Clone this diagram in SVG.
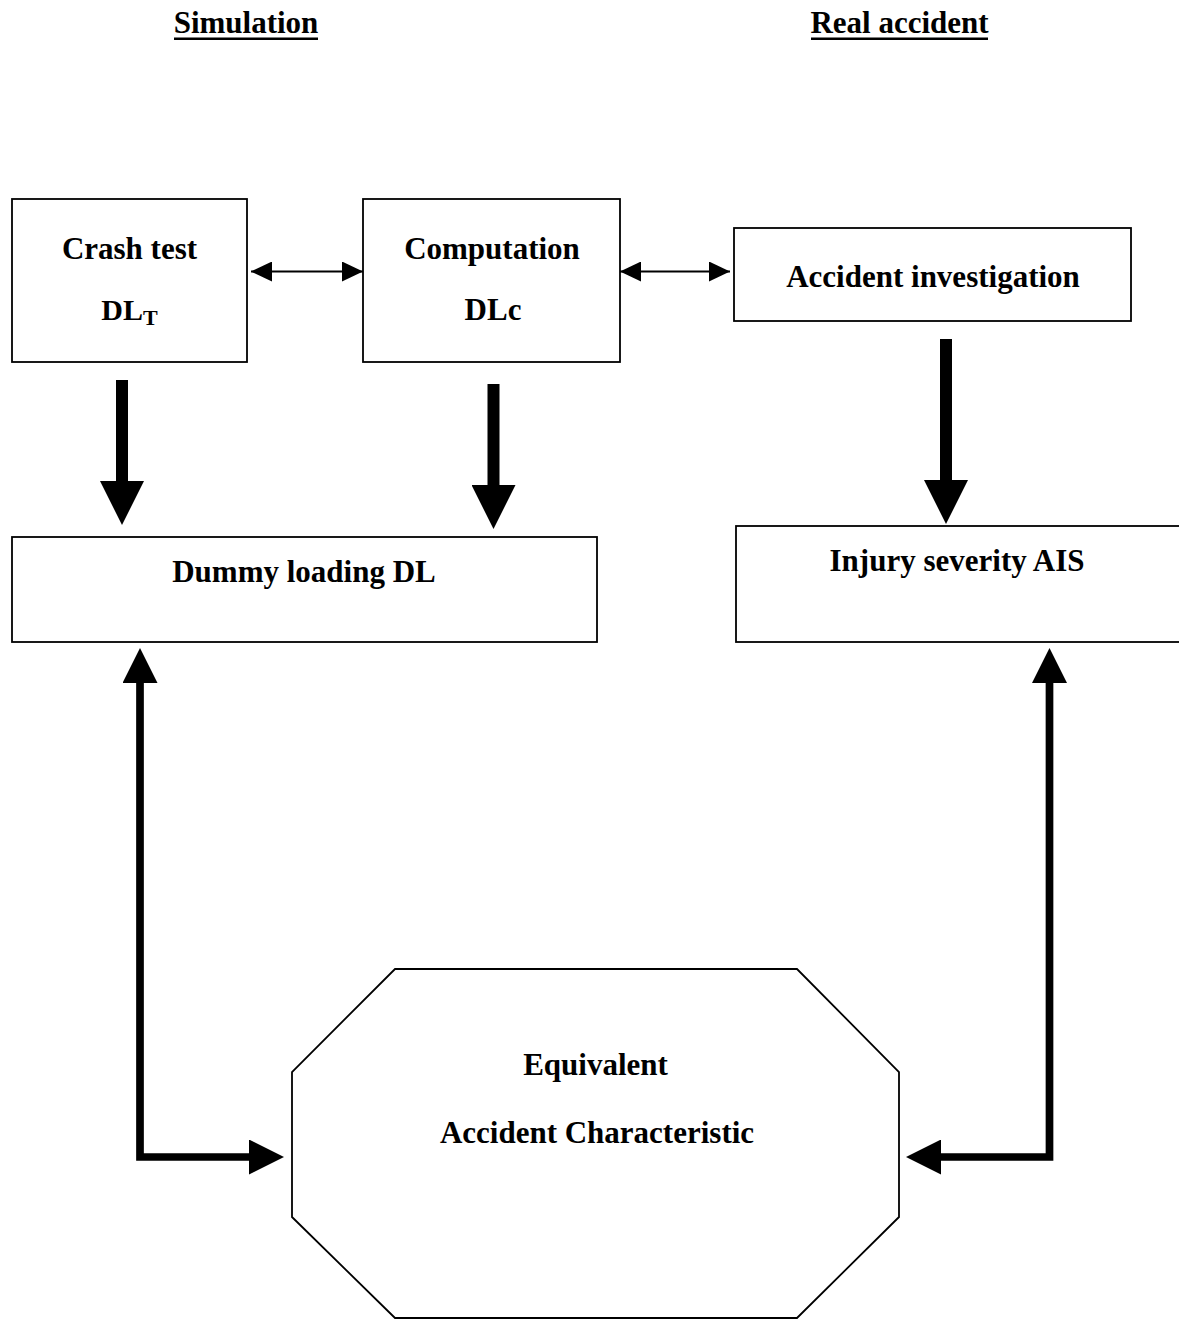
<svg xmlns="http://www.w3.org/2000/svg" width="1179" height="1319" viewBox="0 0 1179 1319">
<style>
.box{fill:#fff;stroke:#000;stroke-width:1.8}
.t{font-family:"Liberation Serif","Times New Roman",serif;font-weight:bold;font-size:31px;fill:#000;text-anchor:middle}
.thin{stroke:#000;stroke-width:2;fill:none}
.thick{stroke:#000;stroke-width:12;fill:none}
.mid{stroke:#000;stroke-width:7.7;fill:none;stroke-linejoin:miter}
</style>
<defs>
<marker id="sm" markerUnits="userSpaceOnUse" markerWidth="21" markerHeight="20" refX="21" refY="10" orient="auto-start-reverse">
<path d="M0,0 L21,10 L0,20 z" fill="#000"/>
</marker>
<marker id="big" markerUnits="userSpaceOnUse" markerWidth="44" markerHeight="44" refX="0" refY="22" orient="auto-start-reverse">
<path d="M0,0 L44,22 L0,44 z" fill="#000"/>
</marker>
<marker id="med" markerUnits="userSpaceOnUse" markerWidth="35" markerHeight="35" refX="0" refY="17.5" orient="auto-start-reverse">
<path d="M0,0 L35,17.5 L0,35 z" fill="#000"/>
</marker>
</defs>
<rect width="1179" height="1319" fill="#fff"/>
<g id="titles">
<text class="t" x="246" y="33">Simulation</text>
<rect x="174" y="37.5" width="144" height="2.5" fill="#000"/>
<text class="t" x="899.5" y="33">Real accident</text>
<rect x="811" y="37.5" width="177" height="2.5" fill="#000"/>
</g>
<g id="crash-test">
<rect class="box" x="12" y="199" width="235" height="163"/>
<text class="t" x="129.5" y="259">Crash test</text>
<text class="t" x="129.5" y="320"><tspan font-size="30">DL</tspan><tspan font-size="22" dy="5">T</tspan></text>
</g>
<g id="computation">
<rect class="box" x="363" y="199" width="257" height="163"/>
<text class="t" x="492" y="259">Computation</text>
<text class="t" x="493" y="320">DLc</text>
</g>
<g id="accident-investigation">
<rect class="box" x="734" y="228" width="397" height="93"/>
<text class="t" x="933" y="287">Accident investigation</text>
</g>
<g id="dummy-loading">
<rect class="box" x="12" y="537" width="585" height="105"/>
<text class="t" x="304" y="582">Dummy loading DL</text>
</g>
<g id="injury-severity">
<rect class="box" x="736" y="526" width="446" height="116"/>
<text class="t" x="957" y="571">Injury severity AIS</text>
</g>
<g id="equivalent-accident">
<polygon class="box" points="395,969 797,969 899,1072 899,1217 797,1318 395,1318 292,1217 292,1072"/>
<text class="t" x="595.5" y="1075">Equivalent</text>
<text class="t" x="597" y="1143">Accident Characteristic</text>
</g>
<g id="connectors">
<line class="thin" x1="251" y1="271.5" x2="363" y2="271.5" marker-start="url(#sm)" marker-end="url(#sm)"/>
<line class="thin" x1="620" y1="271.5" x2="730" y2="271.5" marker-start="url(#sm)" marker-end="url(#sm)"/>
<line class="thick" x1="122" y1="380" x2="122" y2="481" marker-end="url(#big)"/>
<line class="thick" x1="493.5" y1="384" x2="493.5" y2="485" marker-end="url(#big)"/>
<line class="thick" x1="946" y1="339" x2="946" y2="480" marker-end="url(#big)"/>
<path class="mid" d="M140,683 V1157 H249" marker-start="url(#med)" marker-end="url(#med)"/>
<path class="mid" d="M1049.5,683 V1157 H941" marker-start="url(#med)" marker-end="url(#med)"/>
</g>
</svg>
